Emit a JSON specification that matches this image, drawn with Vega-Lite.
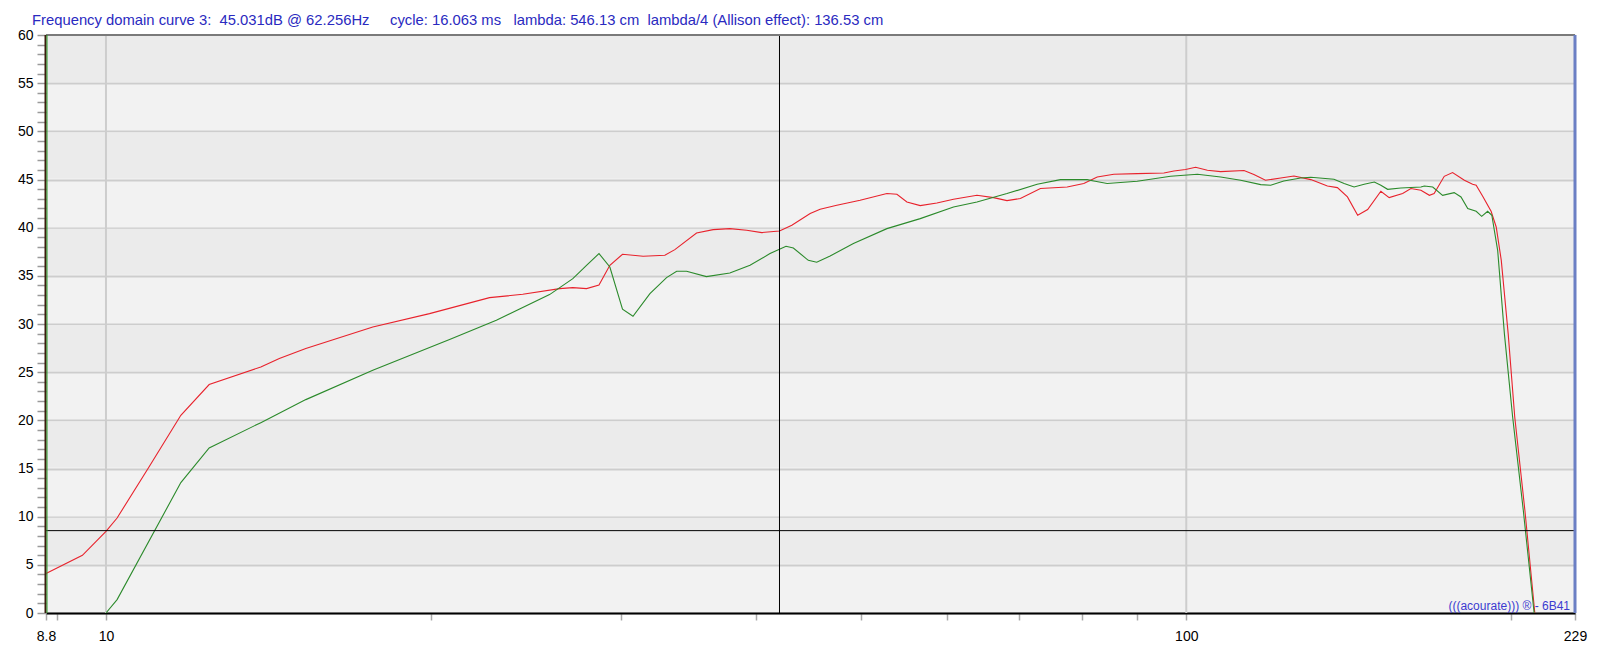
{
  "$schema": "https://vega.github.io/schema/vega-lite/v6.json",
  "width": 1529,
  "height": 578,
  "autosize": {"type": "none"},
  "padding": {"left": 46, "top": 35, "right": 32, "bottom": 48},
  "background": "#ffffff",
  "title": {
    "text": "Frequency domain curve 3:\u00a0\u00a045.031dB @ 62.256Hz\u00a0\u00a0\u00a0\u00a0\u00a0cycle: 16.063 ms\u00a0\u00a0\u00a0lambda: 546.13 cm\u00a0\u00a0lambda/4 (Allison effect): 136.53 cm",
    "anchor": "start",
    "frame": "group",
    "dx": -14,
    "dy": 13.5,
    "offset": 2,
    "baseline": "alphabetic",
    "font": "Liberation Sans",
    "fontSize": 14.8,
    "fontWeight": "normal",
    "color": "#2a2ac0"
  },
  "config": {
    "view": {"stroke": null, "fill": "#f2f2f2"},
    "font": "Liberation Sans"
  },
  "datasets": {
    "bands": [
      {"lo": 5, "hi": 10},
      {"lo": 15, "hi": 20},
      {"lo": 25, "hi": 30},
      {"lo": 35, "hi": 40},
      {"lo": 45, "hi": 50},
      {"lo": 55, "hi": 60}
    ],
    "curves": [
      {"curve": "red", "f": 8.8, "db": 4.09},
      {"curve": "red", "f": 9.51, "db": 5.99},
      {"curve": "red", "f": 10.0, "db": 8.48},
      {"curve": "red", "f": 10.24, "db": 9.86},
      {"curve": "red", "f": 10.96, "db": 15.16},
      {"curve": "red", "f": 11.73, "db": 20.52},
      {"curve": "red", "f": 12.46, "db": 23.71},
      {"curve": "red", "f": 13.91, "db": 25.54},
      {"curve": "red", "f": 14.47, "db": 26.41},
      {"curve": "red", "f": 15.31, "db": 27.45},
      {"curve": "red", "f": 17.66, "db": 29.69},
      {"curve": "red", "f": 19.93, "db": 31.08},
      {"curve": "red", "f": 22.65, "db": 32.74},
      {"curve": "red", "f": 24.31, "db": 33.08},
      {"curve": "red", "f": 26.3, "db": 33.67},
      {"curve": "red", "f": 27.05, "db": 33.78},
      {"curve": "red", "f": 27.85, "db": 33.67},
      {"curve": "red", "f": 28.6, "db": 34.05},
      {"curve": "red", "f": 29.27, "db": 36.09},
      {"curve": "red", "f": 30.07, "db": 37.24},
      {"curve": "red", "f": 31.42, "db": 37.03},
      {"curve": "red", "f": 32.91, "db": 37.13},
      {"curve": "red", "f": 33.62, "db": 37.72},
      {"curve": "red", "f": 35.21, "db": 39.45},
      {"curve": "red", "f": 36.48, "db": 39.8},
      {"curve": "red", "f": 37.8, "db": 39.9},
      {"curve": "red", "f": 39.18, "db": 39.73},
      {"curve": "red", "f": 40.46, "db": 39.49},
      {"curve": "red", "f": 42.02, "db": 39.66},
      {"curve": "red", "f": 43.14, "db": 40.25},
      {"curve": "red", "f": 44.86, "db": 41.46},
      {"curve": "red", "f": 45.82, "db": 41.91},
      {"curve": "red", "f": 47.48, "db": 42.32},
      {"curve": "red", "f": 49.9, "db": 42.84},
      {"curve": "red", "f": 52.83, "db": 43.54},
      {"curve": "red", "f": 53.97, "db": 43.47},
      {"curve": "red", "f": 55.13, "db": 42.67},
      {"curve": "red", "f": 56.72, "db": 42.29},
      {"curve": "red", "f": 58.77, "db": 42.56},
      {"curve": "red", "f": 60.89, "db": 42.95},
      {"curve": "red", "f": 64.01, "db": 43.36},
      {"curve": "red", "f": 66.31, "db": 43.12},
      {"curve": "red", "f": 68.24, "db": 42.81},
      {"curve": "red", "f": 70.21, "db": 43.02},
      {"curve": "red", "f": 73.28, "db": 44.06},
      {"curve": "red", "f": 77.58, "db": 44.22},
      {"curve": "red", "f": 80.38, "db": 44.58},
      {"curve": "red", "f": 82.71, "db": 45.26},
      {"curve": "red", "f": 85.69, "db": 45.54},
      {"curve": "red", "f": 90.07, "db": 45.61},
      {"curve": "red", "f": 95.34, "db": 45.68},
      {"curve": "red", "f": 97.4, "db": 45.88},
      {"curve": "red", "f": 99.85, "db": 46.03},
      {"curve": "red", "f": 102.0, "db": 46.27},
      {"curve": "red", "f": 104.6, "db": 45.96},
      {"curve": "red", "f": 107.6, "db": 45.82},
      {"curve": "red", "f": 113.1, "db": 45.93},
      {"curve": "red", "f": 115.5, "db": 45.51},
      {"curve": "red", "f": 118.4, "db": 44.92},
      {"curve": "red", "f": 122.3, "db": 45.16},
      {"curve": "red", "f": 125.8, "db": 45.37},
      {"curve": "red", "f": 130.4, "db": 44.99},
      {"curve": "red", "f": 135.1, "db": 44.33},
      {"curve": "red", "f": 138.0, "db": 44.16},
      {"curve": "red", "f": 141.0, "db": 43.19},
      {"curve": "red", "f": 144.1, "db": 41.29},
      {"curve": "red", "f": 147.2, "db": 41.88},
      {"curve": "red", "f": 151.4, "db": 43.78},
      {"curve": "red", "f": 154.1, "db": 43.12},
      {"curve": "red", "f": 158.6, "db": 43.54},
      {"curve": "red", "f": 161.4, "db": 44.06},
      {"curve": "red", "f": 164.9, "db": 43.88},
      {"curve": "red", "f": 167.9, "db": 43.36},
      {"curve": "red", "f": 169.6, "db": 43.54},
      {"curve": "red", "f": 173.3, "db": 45.33},
      {"curve": "red", "f": 176.4, "db": 45.72},
      {"curve": "red", "f": 180.9, "db": 44.92},
      {"curve": "red", "f": 184.1, "db": 44.5},
      {"curve": "red", "f": 185.5, "db": 44.4},
      {"curve": "red", "f": 188.1, "db": 43.26},
      {"curve": "red", "f": 191.5, "db": 41.7},
      {"curve": "red", "f": 193.6, "db": 40.07},
      {"curve": "red", "f": 195.7, "db": 36.61},
      {"curve": "red", "f": 198.6, "db": 29.0},
      {"curve": "red", "f": 201.4, "db": 20.35},
      {"curve": "red", "f": 205.8, "db": 10.66},
      {"curve": "red", "f": 210.2, "db": 0},
      {"curve": "green", "f": 10.0, "db": 0},
      {"curve": "green", "f": 10.24, "db": 1.39},
      {"curve": "green", "f": 11.73, "db": 13.54},
      {"curve": "green", "f": 12.46, "db": 17.13},
      {"curve": "green", "f": 13.91, "db": 19.76},
      {"curve": "green", "f": 15.31, "db": 22.15},
      {"curve": "green", "f": 17.66, "db": 25.19},
      {"curve": "green", "f": 20.36, "db": 27.97},
      {"curve": "green", "f": 20.8, "db": 28.38},
      {"curve": "green", "f": 22.98, "db": 30.39},
      {"curve": "green", "f": 25.74, "db": 33.05},
      {"curve": "green", "f": 27.05, "db": 34.71},
      {"curve": "green", "f": 27.85, "db": 36.09},
      {"curve": "green", "f": 28.6, "db": 37.31},
      {"curve": "green", "f": 29.27, "db": 35.92},
      {"curve": "green", "f": 30.07, "db": 31.53},
      {"curve": "green", "f": 30.75, "db": 30.8},
      {"curve": "green", "f": 31.88, "db": 33.16},
      {"curve": "green", "f": 33.03, "db": 34.82},
      {"curve": "green", "f": 33.75, "db": 35.47},
      {"curve": "green", "f": 34.47, "db": 35.47},
      {"curve": "green", "f": 35.96, "db": 34.92},
      {"curve": "green", "f": 37.8, "db": 35.3},
      {"curve": "green", "f": 39.46, "db": 36.09},
      {"curve": "green", "f": 41.18, "db": 37.31},
      {"curve": "green", "f": 42.61, "db": 38.07},
      {"curve": "green", "f": 43.28, "db": 37.89},
      {"curve": "green", "f": 44.68, "db": 36.61},
      {"curve": "green", "f": 45.49, "db": 36.41},
      {"curve": "green", "f": 46.81, "db": 37.06},
      {"curve": "green", "f": 49.19, "db": 38.35},
      {"curve": "green", "f": 52.83, "db": 39.9},
      {"curve": "green", "f": 56.72, "db": 40.94},
      {"curve": "green", "f": 60.89, "db": 42.15},
      {"curve": "green", "f": 64.01, "db": 42.67},
      {"curve": "green", "f": 68.24, "db": 43.54},
      {"curve": "green", "f": 72.77, "db": 44.5},
      {"curve": "green", "f": 76.48, "db": 44.99},
      {"curve": "green", "f": 80.96, "db": 44.99},
      {"curve": "green", "f": 82.12, "db": 44.85},
      {"curve": "green", "f": 84.48, "db": 44.58},
      {"curve": "green", "f": 90.07, "db": 44.82},
      {"curve": "green", "f": 96.7, "db": 45.33},
      {"curve": "green", "f": 102.4, "db": 45.54},
      {"curve": "green", "f": 107.6, "db": 45.26},
      {"curve": "green", "f": 112.3, "db": 44.92},
      {"curve": "green", "f": 117.2, "db": 44.47},
      {"curve": "green", "f": 119.7, "db": 44.4},
      {"curve": "green", "f": 123.1, "db": 44.85},
      {"curve": "green", "f": 127.6, "db": 45.16},
      {"curve": "green", "f": 130.4, "db": 45.23},
      {"curve": "green", "f": 137.0, "db": 45.02},
      {"curve": "green", "f": 140.0, "db": 44.58},
      {"curve": "green", "f": 143.0, "db": 44.22},
      {"curve": "green", "f": 146.1, "db": 44.5},
      {"curve": "green", "f": 149.3, "db": 44.74},
      {"curve": "green", "f": 151.4, "db": 44.4},
      {"curve": "green", "f": 153.6, "db": 43.98},
      {"curve": "green", "f": 158.0, "db": 44.12},
      {"curve": "green", "f": 164.9, "db": 44.22},
      {"curve": "green", "f": 166.1, "db": 44.33},
      {"curve": "green", "f": 169.1, "db": 44.22},
      {"curve": "green", "f": 172.7, "db": 43.36},
      {"curve": "green", "f": 177.0, "db": 43.64},
      {"curve": "green", "f": 179.6, "db": 43.19},
      {"curve": "green", "f": 182.2, "db": 41.98},
      {"curve": "green", "f": 185.5, "db": 41.7},
      {"curve": "green", "f": 187.7, "db": 41.18},
      {"curve": "green", "f": 190.1, "db": 41.7},
      {"curve": "green", "f": 191.8, "db": 41.29},
      {"curve": "green", "f": 194.2, "db": 37.65},
      {"curve": "green", "f": 197.0, "db": 29.0},
      {"curve": "green", "f": 200.5, "db": 20.35},
      {"curve": "green", "f": 205.1, "db": 10.66},
      {"curve": "green", "f": 209.9, "db": 0}
    ]
  },
  "layer": [
    {
      "data": {"name": "bands"},
      "mark": {"type": "rect", "color": "#ebebeb", "yOffset": -1, "y2Offset": 1},
      "encoding": {
        "x": {"value": 0},
        "x2": {"value": "width"},
        "y": {
          "field": "lo", "type": "quantitative", "title": null,
          "scale": {"domain": [0, 60], "nice": false, "zero": false},
          "axis": {
            "values": [0,1,2,3,4,5,6,7,8,9,10,11,12,13,14,15,16,17,18,19,20,21,22,23,24,25,26,27,28,29,30,31,32,33,34,35,36,37,38,39,40,41,42,43,44,45,46,47,48,49,50,51,52,53,54,55,56,57,58,59,60],
            "tickCount": 200,
            "format": "d",
            "labelExpr": "datum.value % 5 === 0 ? datum.label : ''",
            "labelFont": "Liberation Sans",
            "labelFontSize": 14,
            "labelColor": "#000000",
            "labelPadding": 4,
            "labelFlush": false,
            "labelOverlap": false,
            "tickSize": 9,
            "tickColor": "#9a9a9a",
            "tickWidth": 1.5,
            "grid": true,
            "gridColor": "#cdcdcd",
            "gridWidth": 2,
            "gridOpacity": {"condition": {"test": "datum.value % 5 === 0", "value": 1}, "value": 0},
            "domain": false,
            "zindex": 0
          }
        },
        "y2": {"field": "hi"}
      }
    },
    {
      "data": {"values": [{}]},
      "mark": {"type": "rule", "color": "#cdcdcd", "strokeWidth": 2},
      "encoding": {"x": {"datum": 10}}
    },
    {
      "data": {"values": [{}]},
      "mark": {"type": "rule", "color": "#cdcdcd", "strokeWidth": 2},
      "encoding": {"x": {"datum": 100}}
    },
    {
      "data": {"name": "curves"},
      "mark": {"type": "line", "strokeWidth": 1.1},
      "encoding": {
        "x": {
          "field": "f", "type": "quantitative", "title": null,
          "scale": {"type": "log", "domain": [8.8, 229], "nice": false},
          "axis": {
            "values": [8.8, 9, 10, 20, 30, 40, 50, 60, 70, 80, 90, 100, 200, 229],
            "tickCount": 200,
            "format": "~g",
            "labelExpr": "(datum.value == 8.8 || datum.value == 10 || datum.value == 100 || datum.value == 229) ? datum.label : ''",
            "labelFont": "Liberation Sans",
            "labelFontSize": 14,
            "labelColor": "#000000",
            "labelPadding": 9,
            "labelFlush": false,
            "labelOverlap": false,
            "tickSize": 7,
            "tickColor": "#aaaaaa",
            "tickWidth": 1.5,
            "grid": false,
            "domainColor": "#000000",
            "domainWidth": 2,
            "zindex": 0
          }
        },
        "y": {"field": "db", "type": "quantitative", "title": null},
        "color": {
          "field": "curve", "type": "nominal",
          "scale": {"domain": ["red", "green"], "range": ["#e8222c", "#2b8a2b"]},
          "legend": null
        }
      }
    },
    {
      "data": {"values": [{}]},
      "mark": {"type": "rule", "color": "#000000", "strokeWidth": 1},
      "encoding": {"x": {"datum": 42.02}}
    },
    {
      "data": {"values": [{}]},
      "mark": {"type": "rule", "color": "#000000", "strokeWidth": 1},
      "encoding": {"y": {"datum": 8.55}}
    },
    {
      "data": {"values": [{}]},
      "mark": {"type": "rule", "color": "#7a7a7a", "strokeWidth": 2},
      "encoding": {"y": {"datum": 60}}
    },
    {
      "data": {"values": [{}]},
      "mark": {"type": "rule", "color": "#6b7fc4", "strokeWidth": 3},
      "encoding": {"x": {"datum": 229}}
    },
    {
      "data": {"values": [{}]},
      "mark": {"type": "rule", "color": "#3a1c0c", "strokeWidth": 2, "xOffset": -0.5},
      "encoding": {"x": {"datum": 8.8}}
    },
    {
      "data": {"values": [{}]},
      "mark": {"type": "rule", "color": "#2b9a2b", "strokeWidth": 1, "xOffset": 1},
      "encoding": {"x": {"datum": 8.8}}
    },
    {
      "data": {"values": [{}]},
      "mark": {"type": "text", "text": "(((acourate))) \u00ae - 6B41", "align": "right", "baseline": "alphabetic", "dx": -5, "dy": -3, "font": "Liberation Sans", "fontSize": 12, "color": "#3b3bd0"},
      "encoding": {"x": {"datum": 229}, "y": {"datum": 0}}
    }
  ]
}
